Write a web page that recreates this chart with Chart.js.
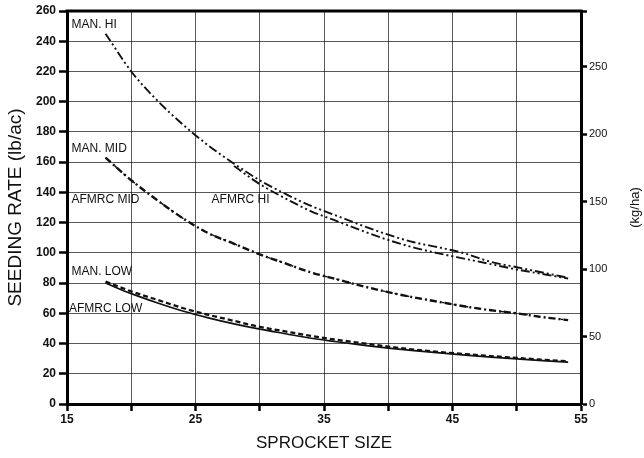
<!DOCTYPE html>
<html>
<head>
<meta charset="utf-8">
<script src="https://cdn.jsdelivr.net/npm/chart.js@4/dist/chart.umd.min.js"></script>
<style>
  html, body { margin: 0; background: #fff; }
</style>
</head>
<body>
<canvas id="seedChart" width="644" height="458"></canvas>
<script>
// sprocket sizes the curves were read at
const sprocket = [18,20,22,24,26,28,30,32,34,36,38,40,42,44,46,48,50,52,54];
// seeding rate, lb/ac
const manHi    = [245,220,201,185,171,159,148,139,131,124.5,118,112,107,103.5,99.5,94,90.5,87,83.5];
const afmrcHi  = [null,null,null,null,null,157.5,145.5,136,127.5,121,114.5,108.5,103.5,99.5,96,92.5,89,86,83];
const manMid   = [163,148,135,123,113,106,99,93,87,82.5,78,74,70.5,67.5,64.5,62,60,57.5,55.5];
const afmrcMid = [163,148,135,123,113,106,99,93,87,82.5,78,74,70.5,67.5,64.5,62,60,57.5,55.5];
const manLow   = [81,74.5,69,63.5,59,55,51,48,45,42.5,40.2,38,36,34.4,33,31.7,30.5,29.3,28.2];
const afmrcLow = [80,73,67,61.5,57,53,49.5,46.5,43.5,41.2,39,37,35.3,33.8,32.3,31,29.8,28.7,27.7];

// curve labels, anchored in data units (sprocket, lb/ac)
const noteText = ['MAN. HI','MAN. MID','AFMRC MID','AFMRC HI','MAN. LOW','AFMRC LOW'];
const noteX    = [15.35,15.35,15.35,26.25,15.35,15.15];
const noteY    = [251.8,169.5,135.5,135.5,88.3,63.8];

const LB_TO_KG = 1.12085;
const FONT = "'Liberation Sans', Arial, Helvetica, sans-serif";

function pts(ys){
  return sprocket.map((x,i) => ({x: x, y: ys[i]}));
}

const extras = {
  id: 'extras',
  afterDraw(chart){
    const {ctx, chartArea: a, scales: {x, y}} = chart;
    ctx.save();
    // top frame line
    ctx.strokeStyle = '#000';
    ctx.lineWidth = 3;
    ctx.beginPath();
    ctx.moveTo(a.left - 1.5, a.top);
    ctx.lineTo(a.right + 1.5, a.top);
    ctx.stroke();
    // curve labels
    ctx.fillStyle = '#111';
    ctx.font = '12px ' + FONT;
    ctx.textAlign = 'left';
    ctx.textBaseline = 'middle';
    noteText.forEach((t,i) => {
      ctx.fillText(t, x.getPixelForValue(noteX[i]), y.getPixelForValue(noteY[i]) + 1);
    });
    // right axis title
    ctx.font = '13px ' + FONT;
    ctx.textAlign = 'center';
    ctx.translate(635, (a.top + a.bottom) / 2);
    ctx.rotate(-Math.PI / 2);
    ctx.fillText('(kg/ha)', 0, 0);
    ctx.restore();
  }
};

function initChart(){
  const el = document.getElementById('seedChart');
  const line = (label, data, dash, width) => ({
    label, data: pts(data), borderColor: '#111', backgroundColor: '#111',
    borderWidth: width, borderDash: dash, pointRadius: 0, fill: false,
    cubicInterpolationMode: 'monotone', spanGaps: false
  });
  new Chart(el.getContext('2d'), {
    type: 'line',
    data: {
      datasets: [
        line('MAN. HI', manHi, [9,3,2,3,2,3], 1.9),
        line('AFMRC HI', afmrcHi, [9,3,2,3,2,3], 1.9),
        line('MAN. MID', manMid, [7,3,2,3], 2.4),
        line('AFMRC MID', afmrcMid, [3,9], 1.4),
        line('MAN. LOW', manLow, [5,3], 2.3),
        line('AFMRC LOW', afmrcLow, [], 1.7)
      ]
    },
    options: {
      responsive: false,
      animation: false,
      layout: { padding: { top: 11, left: 0, right: 0, bottom: 0 } },
      plugins: { legend: { display: false }, tooltip: { enabled: false } },
      scales: {
        x: {
          type: 'linear', min: 15, max: 55,
          afterFit: s => { s.height = 54; },
          ticks: { stepSize: 5, autoSkip: false, maxRotation: 0, padding: 1, color: '#111',
                   font: { family: FONT, size: 12, weight: 'bold' },
                   callback: v => ((v - 15) % 10 === 0 ? v : '') },
          grid: { color: 'rgba(0,0,0,0.65)', lineWidth: 1, tickLength: 7, tickWidth: 2.5, tickColor: '#000' },
          border: { color: '#000', width: 3 },
          title: { display: true, text: 'SPROCKET SIZE', color: '#111',
                   font: { family: FONT, size: 17 }, padding: { top: 0, bottom: 4 } }
        },
        y: {
          position: 'left', min: 0, max: 260,
          afterFit: s => { s.width = 67; },
          ticks: { stepSize: 20, padding: 3, color: '#111', font: { family: FONT, size: 12, weight: 'bold' } },
          grid: { color: 'rgba(0,0,0,0.65)', lineWidth: 1, tickLength: 8, tickWidth: 2.5, tickColor: '#000' },
          border: { color: '#000', width: 3 },
          title: { display: true, text: 'SEEDING RATE (lb/ac)', color: '#111',
                   font: { family: FONT, size: 19 }, padding: { top: 4, bottom: 0 } }
        },
        y1: {
          position: 'right', min: 0, max: 260 * LB_TO_KG,
          afterFit: s => { s.width = 63; },
          ticks: { stepSize: 50, padding: 2, color: '#111', font: { family: FONT, size: 11 },
                   callback: v => (v % 50 === 0 ? v : '') },
          grid: { drawOnChartArea: false, tickLength: 6, tickWidth: 2.5, tickColor: '#000' },
          border: { color: '#000', width: 3 }
        }
      }
    },
    plugins: [extras]
  });
}

document.addEventListener('DOMContentLoaded', initChart);
</script>
</body>
</html>
